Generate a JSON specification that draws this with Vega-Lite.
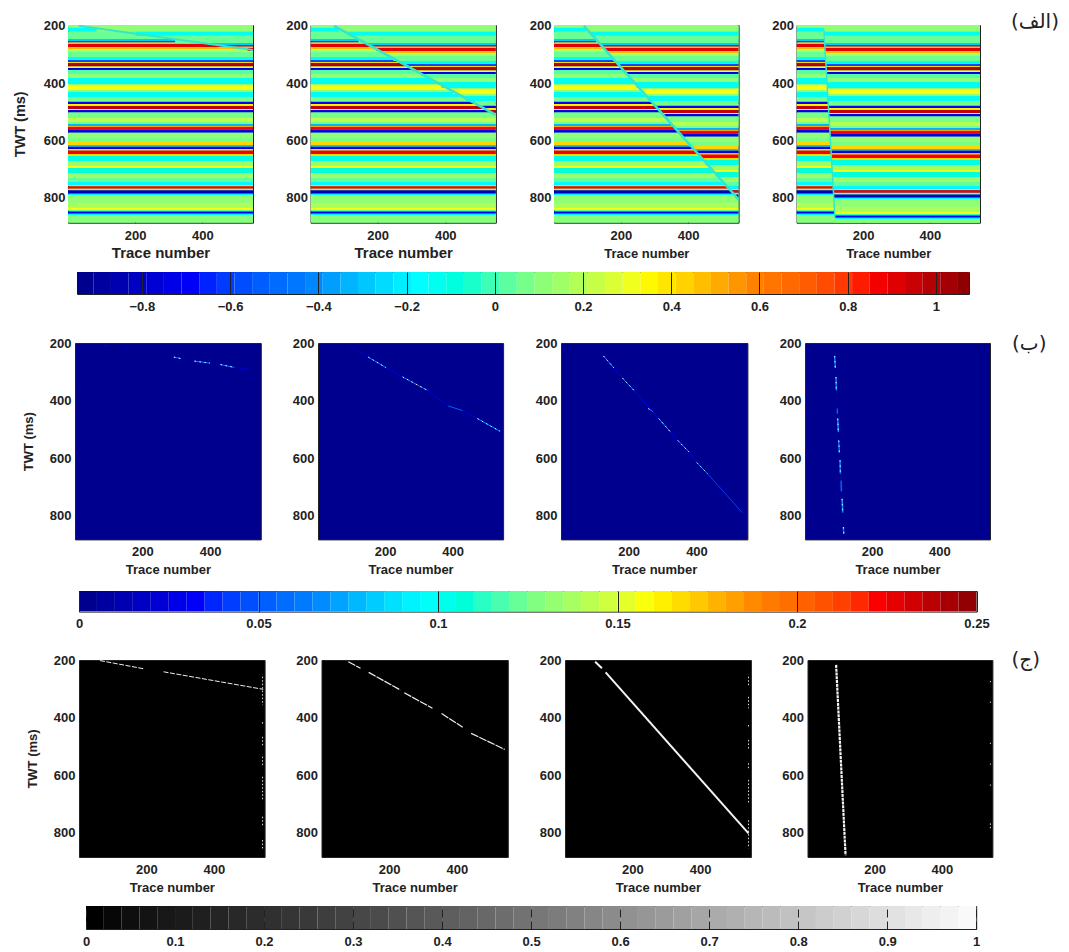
{"$schema":"https://vega.github.io/schema/vega-lite/v6.json","background":"white","padding":{"left":0,"top":11,"right":0,"bottom":0},
"config":{"view":{"stroke":"#222222"},"range":{"heatmap":["#00008f","#0000ff","#0080ff","#00ffff","#80ff80","#ffff00","#ff8000","#ff0000","#800000"],"ramp":["#00008f","#0000ff","#0080ff","#00ffff","#80ff80","#ffff00","#ff8000","#ff0000","#800000"]},
"axis":{"domain":false,"grid":false,"labelFont":"Liberation Sans","labelFontSize":13,"labelFontWeight":"bold","labelColor":"#222222","titleFont":"Liberation Sans","titleFontSize":13,"titleFontWeight":"bold","titleColor":"#222222","tickColor":"#222222","tickSize":0,"labelBound":false,"labelFlush":false,"labelOverlap":false,"titlePadding":5,"labelPadding":6},"axisY":{"labelPadding":4,"titlePadding":14,"labelAngle":0},
"title":{"font":"DejaVu Sans","fontSize":20,"fontWeight":"normal","color":"#222222"}},
"datasets":{
"bands":[
{"t":196.5,"t2":207,"s":196.5,"s2":221,"v":0.1,"a":86,"b":85,"c":97,"d":83},
{"t":207,"t2":221,"s":221,"s2":235,"v":-0.15,"a":202,"b":114,"c":111,"d":84},
{"t":221,"t2":245.5,"s":235,"s2":259.5,"v":0.03,"a":319,"b":143,"c":126,"d":85},
{"t":245.5,"t2":252.5,"s":259.5,"s2":266.5,"v":-0.3,"a":417,"b":168,"c":138,"d":86},
{"t":252.5,"t2":258,"s":266.5,"s2":272,"v":-0.6,"a":454,"b":177,"c":142,"d":86},
{"t":258,"t2":263,"s":272,"s2":277,"v":0.45,"a":488,"b":186,"c":146,"d":86},
{"t":263,"t2":273.5,"s":277,"s2":287.5,"v":0.88,"a":534,"b":197,"c":152,"d":86},
{"t":273.5,"t2":280.5,"s":287.5,"s2":294.5,"v":0.45,"a":550,"b":211,"c":159,"d":87},
{"t":280.5,"t2":291,"s":294.5,"s2":305,"v":0.15,"a":550,"b":225,"c":166,"d":87},
{"t":291,"t2":308.5,"s":305,"s2":322.5,"v":0.03,"a":550,"b":246,"c":176,"d":88},
{"t":308.5,"t2":319,"s":322.5,"s2":333,"v":-0.15,"a":550,"b":268,"c":187,"d":89},
{"t":319,"t2":326,"s":333,"s2":340,"v":-0.6,"a":550,"b":281,"c":193,"d":89},
{"t":326,"t2":329.5,"s":340,"s2":343.5,"v":0.4,"a":550,"b":290,"c":198,"d":89},
{"t":329.5,"t2":341.75,"s":343.5,"s2":355.75,"v":0.98,"a":550,"b":302,"c":204,"d":90},
{"t":341.75,"t2":347,"s":355.75,"s2":361,"v":0.3,"a":550,"b":314,"c":210,"d":90},
{"t":347,"t2":354,"s":361,"s2":368,"v":-0.75,"a":550,"b":324,"c":214,"d":91},
{"t":354,"t2":368,"s":368,"s2":382,"v":0,"a":550,"b":340,"c":223,"d":91},
{"t":368,"t2":382,"s":382,"s2":396,"v":0.1,"a":550,"b":362,"c":233,"d":92},
{"t":382,"t2":403,"s":396,"s2":417,"v":-0.15,"a":550,"b":388,"c":246,"d":93},
{"t":403,"t2":406.5,"s":417,"s2":420.5,"v":0.1,"a":550,"b":408,"c":255,"d":93},
{"t":406.5,"t2":424,"s":420.5,"s2":438,"v":0.3,"a":550,"b":423,"c":263,"d":94},
{"t":424,"t2":431,"s":438,"s2":445,"v":0.1,"a":550,"b":442,"c":273,"d":94},
{"t":431,"t2":448.5,"s":445,"s2":462.5,"v":-0.15,"a":550,"b":462,"c":282,"d":95},
{"t":448.5,"t2":465,"s":462.5,"s2":479,"v":0.05,"a":550,"b":488,"c":295,"d":96},
{"t":465,"t2":473,"s":479,"s2":487,"v":-0.7,"a":550,"b":507,"c":304,"d":97},
{"t":473,"t2":480,"s":487,"s2":494,"v":0.35,"a":550,"b":518,"c":310,"d":97},
{"t":480,"t2":490.5,"s":494,"s2":504.5,"v":0.95,"a":550,"b":531,"c":317,"d":97},
{"t":490.5,"t2":494,"s":504.5,"s2":508,"v":0.3,"a":550,"b":542,"c":323,"d":98},
{"t":494,"t2":503,"s":508,"s2":517,"v":-0.75,"a":550,"b":550,"c":327,"d":98},
{"t":503,"t2":522,"s":517,"s2":536,"v":0.05,"a":550,"b":550,"c":337,"d":99},
{"t":522,"t2":536,"s":536,"s2":550,"v":0.18,"a":550,"b":550,"c":350,"d":100},
{"t":536,"t2":543,"s":550,"s2":557,"v":0.05,"a":550,"b":550,"c":358,"d":100},
{"t":543,"t2":550,"s":557,"s2":564,"v":-0.35,"a":550,"b":550,"c":364,"d":100},
{"t":550,"t2":553.5,"s":564,"s2":567.5,"v":0.5,"a":550,"b":550,"c":367,"d":101},
{"t":553.5,"t2":562,"s":567.5,"s2":576,"v":0.85,"a":550,"b":550,"c":372,"d":101},
{"t":562,"t2":573.5,"s":576,"s2":587.5,"v":-0.75,"a":550,"b":550,"c":379,"d":102},
{"t":573.5,"t2":592,"s":587.5,"s2":606,"v":0.1,"a":550,"b":550,"c":390,"d":102},
{"t":592,"t2":606,"s":606,"s2":620,"v":0.05,"a":550,"b":550,"c":402,"d":103},
{"t":606,"t2":616.5,"s":620,"s2":630.5,"v":0.4,"a":550,"b":550,"c":411,"d":104},
{"t":616.5,"t2":622.5,"s":630.5,"s2":636.5,"v":-0.3,"a":550,"b":550,"c":417,"d":104},
{"t":622.5,"t2":631.5,"s":636.5,"s2":645.5,"v":-0.8,"a":550,"b":550,"c":424,"d":105},
{"t":631.5,"t2":635.5,"s":645.5,"s2":649.5,"v":0.3,"a":550,"b":550,"c":429,"d":105},
{"t":635.5,"t2":648,"s":649.5,"s2":662,"v":0.85,"a":550,"b":550,"c":435,"d":105},
{"t":648,"t2":655,"s":662,"s2":669,"v":0.4,"a":550,"b":550,"c":443,"d":106},
{"t":655,"t2":672.5,"s":669,"s2":686.5,"v":-0.12,"a":550,"b":550,"c":452,"d":106},
{"t":672.5,"t2":690,"s":686.5,"s2":704,"v":0.12,"a":550,"b":550,"c":465,"d":107},
{"t":690,"t2":697,"s":704,"s2":711,"v":0.3,"a":550,"b":550,"c":474,"d":108},
{"t":697,"t2":714.5,"s":711,"s2":728.5,"v":-0.1,"a":550,"b":550,"c":484,"d":109},
{"t":714.5,"t2":732,"s":728.5,"s2":746,"v":0.12,"a":550,"b":550,"c":497,"d":109},
{"t":732,"t2":746,"s":746,"s2":760,"v":0.02,"a":550,"b":550,"c":508,"d":110},
{"t":746,"t2":756.5,"s":760,"s2":770.5,"v":-0.2,"a":550,"b":550,"c":518,"d":111},
{"t":756.5,"t2":761,"s":770.5,"s2":775,"v":0.4,"a":550,"b":550,"c":524,"d":111},
{"t":761,"t2":769.5,"s":775,"s2":783.5,"v":0.85,"a":550,"b":550,"c":529,"d":112},
{"t":769.5,"t2":775,"s":783.5,"s2":789,"v":0.1,"a":550,"b":550,"c":534,"d":112},
{"t":775,"t2":787,"s":789,"s2":801,"v":-0.85,"a":550,"b":550,"c":541,"d":112},
{"t":787,"t2":791.5,"s":801,"s2":805.5,"v":-0.2,"a":550,"b":550,"c":547,"d":113},
{"t":791.5,"t2":819.5,"s":805.5,"s2":833.5,"v":0.1,"a":550,"b":550,"c":550,"d":114},
{"t":819.5,"t2":837,"s":833.5,"s2":851,"v":0.15,"a":550,"b":550,"c":550,"d":115},
{"t":837,"t2":845,"s":851,"s2":859,"v":0.3,"a":550,"b":550,"c":550,"d":115},
{"t":845,"t2":848.5,"s":859,"s2":862.5,"v":-0.1,"a":550,"b":550,"c":550,"d":116},
{"t":848.5,"t2":857,"s":862.5,"s2":871,"v":-0.7,"a":550,"b":550,"c":550,"d":116},
{"t":857,"t2":861.5,"s":871,"s2":875.5,"v":-0.2,"a":550,"b":550,"c":550,"d":116},
{"t":861.5,"t2":888.5,"s":875.5,"s2":888.5,"v":0.08,"a":550,"b":550,"c":550,"d":116}],
"f1":[{"x":33,"y":200,"x2":550,"y2":284}],
"f2":[{"x":71,"y":200,"x2":550,"y2":511}],
"f3":[{"x":90,"y":200,"x2":550,"y2":807}],
"f4":[{"x":83,"y":214,"x2":116,"y2":869}],
"b1":[{"x":85,"y":208,"x2":100,"y2":211,"v":0.02},{"x":150,"y":219,"x2":158,"y2":221,"v":0.02},{"x":293,"y":249,"x2":314,"y2":254,"v":0.055},{"x":354,"y":263,"x2":400,"y2":270,"v":0.06},{"x":431,"y":275,"x2":472,"y2":285,"v":0.06},{"x":472,"y":285,"x2":510,"y2":291,"v":0.02}],
"b2":[{"x":90,"y":208,"x2":150,"y2":249,"v":0.015},{"x":150,"y":249,"x2":203,"y2":286,"v":0.06},{"x":203,"y":286,"x2":252,"y2":318,"v":0.02},{"x":252,"y":318,"x2":326,"y2":365,"v":0.06},{"x":326,"y":365,"x2":387,"y2":419,"v":0.02},{"x":387,"y":419,"x2":430,"y2":435,"v":0.05},{"x":430,"y":435,"x2":474,"y2":463,"v":0.02},{"x":474,"y":463,"x2":541,"y2":507,"v":0.065}],
"b3":[{"x":126,"y":245,"x2":157,"y2":287,"v":0.06},{"x":157,"y":287,"x2":182,"y2":322,"v":0.025},{"x":182,"y":322,"x2":216,"y2":365,"v":0.06},{"x":216,"y":365,"x2":289,"y2":463,"v":0.03},{"x":258,"y":428,"x2":271,"y2":438,"v":0.055},{"x":289,"y":463,"x2":324,"y2":510,"v":0.065},{"x":324,"y":510,"x2":345,"y2":539,"v":0.025},{"x":345,"y":539,"x2":378,"y2":579,"v":0.06},{"x":378,"y":579,"x2":401,"y2":616,"v":0.025},{"x":401,"y":616,"x2":433,"y2":655,"v":0.06},{"x":433,"y":655,"x2":535,"y2":790,"v":0.04}],
"b4":[{"x":89,"y":245,"x2":91,"y2":287,"v":0.06},{"x":93,"y":318,"x2":94,"y2":365,"v":0.06},{"x":97,"y":428,"x2":97,"y2":446,"v":0.05},{"x":98,"y":463,"x2":100,"y2":510,"v":0.065},{"x":101,"y":539,"x2":103,"y2":582,"v":0.055},{"x":105,"y":608,"x2":106,"y2":655,"v":0.06},{"x":108,"y":678,"x2":109,"y2":716,"v":0.05},{"x":111,"y":742,"x2":113,"y2":790,"v":0.065},{"x":115,"y":840,"x2":116,"y2":863,"v":0.06}],
"c1":[{"k":"f","x":63,"y":202,"x2":195,"y2":231},{"k":"f","x":251,"y":241,"x2":546,"y2":302},{"k":"e","x":544,"y":258,"x2":544,"y2":357},{"k":"e","x":544,"y":416,"x2":544,"y2":422},{"k":"e","x":544,"y":467,"x2":544,"y2":502},{"k":"e","x":544,"y":536,"x2":544,"y2":571},{"k":"e","x":544,"y":606,"x2":544,"y2":687},{"k":"e","x":544,"y":745,"x2":544,"y2":780},{"k":"e","x":544,"y":826,"x2":544,"y2":855}],
"c2":[{"k":"f","x":80,"y":206,"x2":116,"y2":229},{"k":"f","x":140,"y":243,"x2":233,"y2":304},{"k":"f","x":245,"y":314,"x2":328,"y2":368},{"k":"f","x":355,"y":386,"x2":417,"y2":434},{"k":"f","x":442,"y":455,"x2":541,"y2":511}],
"c3":[{"k":"f","x":90,"y":206,"x2":110,"y2":229},{"k":"f","x":121,"y":243,"x2":543,"y2":803},{"k":"e","x":543,"y":258,"x2":543,"y2":293},{"k":"e","x":543,"y":328,"x2":543,"y2":368},{"k":"e","x":543,"y":426,"x2":543,"y2":434},{"k":"e","x":543,"y":478,"x2":543,"y2":513},{"k":"e","x":543,"y":559,"x2":543,"y2":583},{"k":"e","x":543,"y":617,"x2":543,"y2":698},{"k":"e","x":543,"y":757,"x2":543,"y2":855}],
"c4":[{"k":"f","x":86,"y":217,"x2":114,"y2":879},{"k":"e","x":544,"y":273,"x2":544,"y2":277},{"k":"e","x":544,"y":345,"x2":544,"y2":349},{"k":"e","x":544,"y":488,"x2":544,"y2":492},{"k":"e","x":544,"y":560,"x2":544,"y2":564},{"k":"e","x":544,"y":633,"x2":544,"y2":637},{"k":"e","x":544,"y":768,"x2":544,"y2":785}],
"cb1":[{"v":-0.95,"w":-0.91},{"v":-0.91,"w":-0.87},{"v":-0.87,"w":-0.83},{"v":-0.83,"w":-0.79},{"v":-0.79,"w":-0.75},{"v":-0.75,"w":-0.71},{"v":-0.71,"w":-0.67},{"v":-0.67,"w":-0.63},{"v":-0.63,"w":-0.59},{"v":-0.59,"w":-0.55},{"v":-0.55,"w":-0.51},{"v":-0.51,"w":-0.47},{"v":-0.47,"w":-0.43},{"v":-0.43,"w":-0.39},{"v":-0.39,"w":-0.35},{"v":-0.35,"w":-0.31},{"v":-0.31,"w":-0.27},{"v":-0.27,"w":-0.23},{"v":-0.23,"w":-0.19},{"v":-0.19,"w":-0.15},{"v":-0.15,"w":-0.11},{"v":-0.11,"w":-0.07},{"v":-0.07,"w":-0.03},{"v":-0.03,"w":0.01},{"v":0.01,"w":0.05},{"v":0.05,"w":0.09},{"v":0.09,"w":0.13},{"v":0.13,"w":0.17},{"v":0.17,"w":0.21},{"v":0.21,"w":0.25},{"v":0.25,"w":0.29},{"v":0.29,"w":0.33},{"v":0.33,"w":0.37},{"v":0.37,"w":0.41},{"v":0.41,"w":0.45},{"v":0.45,"w":0.49},{"v":0.49,"w":0.53},{"v":0.53,"w":0.57},{"v":0.57,"w":0.61},{"v":0.61,"w":0.65},{"v":0.65,"w":0.69},{"v":0.69,"w":0.73},{"v":0.73,"w":0.77},{"v":0.77,"w":0.81},{"v":0.81,"w":0.85},{"v":0.85,"w":0.89},{"v":0.89,"w":0.93},{"v":0.93,"w":0.97},{"v":0.97,"w":1.01},{"v":1.01,"w":1.05},{"v":1.05,"w":1.09}],
"cb2":[{"v":0,"w":0.005},{"v":0.005,"w":0.01},{"v":0.01,"w":0.015},{"v":0.015,"w":0.02},{"v":0.02,"w":0.025},{"v":0.025,"w":0.03},{"v":0.03,"w":0.035},{"v":0.035,"w":0.04},{"v":0.04,"w":0.045},{"v":0.045,"w":0.05},{"v":0.05,"w":0.055},{"v":0.055,"w":0.06},{"v":0.06,"w":0.065},{"v":0.065,"w":0.07},{"v":0.07,"w":0.075},{"v":0.075,"w":0.08},{"v":0.08,"w":0.085},{"v":0.085,"w":0.09},{"v":0.09,"w":0.095},{"v":0.095,"w":0.1},{"v":0.1,"w":0.105},{"v":0.105,"w":0.11},{"v":0.11,"w":0.115},{"v":0.115,"w":0.12},{"v":0.12,"w":0.125},{"v":0.125,"w":0.13},{"v":0.13,"w":0.135},{"v":0.135,"w":0.14},{"v":0.14,"w":0.145},{"v":0.145,"w":0.15},{"v":0.15,"w":0.155},{"v":0.155,"w":0.16},{"v":0.16,"w":0.165},{"v":0.165,"w":0.17},{"v":0.17,"w":0.175},{"v":0.175,"w":0.18},{"v":0.18,"w":0.185},{"v":0.185,"w":0.19},{"v":0.19,"w":0.195},{"v":0.195,"w":0.2},{"v":0.2,"w":0.205},{"v":0.205,"w":0.21},{"v":0.21,"w":0.215},{"v":0.215,"w":0.22},{"v":0.22,"w":0.225},{"v":0.225,"w":0.23},{"v":0.23,"w":0.235},{"v":0.235,"w":0.24},{"v":0.24,"w":0.245},{"v":0.245,"w":0.25}],
"cb3":[{"v":0,"w":0.02},{"v":0.02,"w":0.04},{"v":0.04,"w":0.06},{"v":0.06,"w":0.08},{"v":0.08,"w":0.1},{"v":0.1,"w":0.12},{"v":0.12,"w":0.14},{"v":0.14,"w":0.16},{"v":0.16,"w":0.18},{"v":0.18,"w":0.2},{"v":0.2,"w":0.22},{"v":0.22,"w":0.24},{"v":0.24,"w":0.26},{"v":0.26,"w":0.28},{"v":0.28,"w":0.3},{"v":0.3,"w":0.32},{"v":0.32,"w":0.34},{"v":0.34,"w":0.36},{"v":0.36,"w":0.38},{"v":0.38,"w":0.4},{"v":0.4,"w":0.42},{"v":0.42,"w":0.44},{"v":0.44,"w":0.46},{"v":0.46,"w":0.48},{"v":0.48,"w":0.5},{"v":0.5,"w":0.52},{"v":0.52,"w":0.54},{"v":0.54,"w":0.56},{"v":0.56,"w":0.58},{"v":0.58,"w":0.6},{"v":0.6,"w":0.62},{"v":0.62,"w":0.64},{"v":0.64,"w":0.66},{"v":0.66,"w":0.68},{"v":0.68,"w":0.7},{"v":0.7,"w":0.72},{"v":0.72,"w":0.74},{"v":0.74,"w":0.76},{"v":0.76,"w":0.78},{"v":0.78,"w":0.8},{"v":0.8,"w":0.82},{"v":0.82,"w":0.84},{"v":0.84,"w":0.86},{"v":0.86,"w":0.88},{"v":0.88,"w":0.9},{"v":0.9,"w":0.92},{"v":0.92,"w":0.94},{"v":0.94,"w":0.96},{"v":0.96,"w":0.98},{"v":0.98,"w":1}]
},
"bounds":"full","spacing":0,"resolve":{"scale":{"color":"independent"}},
"vconcat":[
{"bounds":"flush","spacing":0,"resolve":{"scale":{"color":"independent"}},"hconcat":[
{"width":68,"height":197.7,"view":{"stroke":null},"data":{"values":[]},"mark":"rect","encoding":{}},
{"bounds":"flush","spacing":57.5,"resolve":{"scale":{"color":"independent"}},"hconcat":[
{"width":185,"height":197.7,"view":{"fill":"#80ff80"},"data":{"name":"bands"},"layer":[
{"mark":{"type":"rect","clip":true},"encoding":{"y":{"field":"t","type":"quantitative","scale":{"domain":[197,888],"reverse":true,"nice":false,"zero":false},"axis":{"values":[200,400,600,800],"title":"TWT (ms)","titleFontSize":14.5,"tickSize":-3,"labelPadding":6,"titlePadding":16}},"y2":{"field":"t2"},"color":{"field":"v","type":"quantitative","scale":{"domain":[-0.95,1.08]},"legend":null}}},
{"mark":{"type":"rect","clip":true},"encoding":{"x":{"field":"a","type":"quantitative","scale":{"domain":[1,550],"nice":false,"zero":false},"axis":{"values":[200,400],"title":"Trace number","titleFontSize":15,"tickSize":-3,"labelPadding":10,"titlePadding":3}},"x2":{"datum":550},"y":{"field":"s","type":"quantitative"},"y2":{"field":"s2"},"color":{"field":"v","type":"quantitative","scale":{"domain":[-0.95,1.08]},"legend":null}}},
{"data":{"name":"f1"},"mark":{"type":"rule","color":"#35e6c8","strokeWidth":2,"clip":true},"encoding":{"x":{"field":"x","type":"quantitative"},"x2":{"field":"x2"},"y":{"field":"y","type":"quantitative"},"y2":{"field":"y2"}}}]},
{"width":185.4,"height":197.7,"view":{"fill":"#80ff80"},"data":{"name":"bands"},"layer":[
{"mark":{"type":"rect","clip":true},"encoding":{"y":{"field":"t","type":"quantitative","scale":{"domain":[197,888],"reverse":true,"nice":false,"zero":false},"axis":{"values":[200,400,600,800],"title":null,"tickSize":-3,"labelPadding":6}},"y2":{"field":"t2"},"color":{"field":"v","type":"quantitative","scale":{"domain":[-0.95,1.08]},"legend":null}}},
{"mark":{"type":"rect","clip":true},"encoding":{"x":{"field":"b","type":"quantitative","scale":{"domain":[1,550],"nice":false,"zero":false},"axis":{"values":[200,400],"title":"Trace number","titleFontSize":15,"tickSize":-3,"labelPadding":10,"titlePadding":3}},"x2":{"datum":550},"y":{"field":"s","type":"quantitative"},"y2":{"field":"s2"},"color":{"field":"v","type":"quantitative","scale":{"domain":[-0.95,1.08]},"legend":null}}},
{"data":{"name":"f2"},"mark":{"type":"rule","color":"#35e6c8","strokeWidth":2.5,"clip":true},"encoding":{"x":{"field":"x","type":"quantitative"},"x2":{"field":"x2"},"y":{"field":"y","type":"quantitative"},"y2":{"field":"y2"}}}]},
{"width":184.6,"height":197.7,"view":{"fill":"#80ff80"},"data":{"name":"bands"},"layer":[
{"mark":{"type":"rect","clip":true},"encoding":{"y":{"field":"t","type":"quantitative","scale":{"domain":[197,888],"reverse":true,"nice":false,"zero":false},"axis":{"values":[200,400,600,800],"title":null,"tickSize":-3,"labelPadding":6}},"y2":{"field":"t2"},"color":{"field":"v","type":"quantitative","scale":{"domain":[-0.95,1.08]},"legend":null}}},
{"mark":{"type":"rect","clip":true},"encoding":{"x":{"field":"c","type":"quantitative","scale":{"domain":[1,550],"nice":false,"zero":false},"axis":{"values":[200,400],"title":"Trace number","tickSize":-3,"labelPadding":10,"titlePadding":5}},"x2":{"datum":550},"y":{"field":"s","type":"quantitative"},"y2":{"field":"s2"},"color":{"field":"v","type":"quantitative","scale":{"domain":[-0.95,1.08]},"legend":null}}},
{"data":{"name":"f3"},"mark":{"type":"rule","color":"#35e6c8","strokeWidth":2.5,"clip":true},"encoding":{"x":{"field":"x","type":"quantitative"},"x2":{"field":"x2"},"y":{"field":"y","type":"quantitative"},"y2":{"field":"y2"}}}]},
{"width":183.5,"height":197.7,"view":{"fill":"#80ff80"},"title":{"text":"(الف)","orient":"top","anchor":"end","align":"left","offset":0,"dx":31,"dy":12},"data":{"name":"bands"},"layer":[
{"mark":{"type":"rect","clip":true},"encoding":{"y":{"field":"t","type":"quantitative","scale":{"domain":[197,888],"reverse":true,"nice":false,"zero":false},"axis":{"values":[200,400,600,800],"title":null,"tickSize":-3,"labelPadding":6}},"y2":{"field":"t2"},"color":{"field":"v","type":"quantitative","scale":{"domain":[-0.95,1.08]},"legend":null}}},
{"mark":{"type":"rect","clip":true},"encoding":{"x":{"field":"d","type":"quantitative","scale":{"domain":[1,550],"nice":false,"zero":false},"axis":{"values":[200,400],"title":"Trace number","tickSize":-3,"labelPadding":10,"titlePadding":5}},"x2":{"datum":550},"y":{"field":"s","type":"quantitative"},"y2":{"field":"s2"},"color":{"field":"v","type":"quantitative","scale":{"domain":[-0.95,1.08]},"legend":null}}},
{"data":{"name":"f4"},"mark":{"type":"rule","color":"#35e6c8","strokeWidth":1.5,"clip":true},"encoding":{"x":{"field":"x","type":"quantitative"},"x2":{"field":"x2"},"y":{"field":"y","type":"quantitative"},"y2":{"field":"y2"}}}]}
]}
]},
{"width":1,"height":9,"view":{"stroke":null},"data":{"values":[]},"mark":"rect","encoding":{}},
{"bounds":"flush","spacing":0,"resolve":{"scale":{"color":"independent"}},"hconcat":[
{"width":77,"height":22,"view":{"stroke":null},"data":{"values":[]},"mark":"rect","encoding":{}},
{"width":892,"height":22,"data":{"name":"cb1"},"mark":{"type":"rect","clip":true},"encoding":{"x":{"field":"v","type":"quantitative","scale":{"domain":[-0.947,1.075],"nice":false,"zero":false},"axis":{"values":[-0.8,-0.6,-0.4,-0.2,0,0.2,0.4,0.6,0.8,1],"format":"~g","title":null,"tickSize":-22,"zindex":1,"labelPadding":28}},"x2":{"field":"w"},"color":{"field":"v","type":"quantitative","scale":{"domain":[-0.95,1.08]},"legend":null}}}
]},
{"width":1,"height":19,"view":{"stroke":null},"data":{"values":[]},"mark":"rect","encoding":{}},
{"bounds":"flush","spacing":0,"resolve":{"scale":{"color":"independent"}},"hconcat":[
{"width":74.7,"height":196.4,"view":{"stroke":null},"data":{"values":[]},"mark":"rect","encoding":{}},
{"bounds":"flush","spacing":57,"resolve":{"scale":{"color":"independent"}},"hconcat":[
{"width":185.8,"height":196.4,"view":{"fill":"#00008f"},"data":{"name":"b1"},"encoding":{"x":{"field":"x","type":"quantitative","scale":{"domain":[1,550],"nice":false,"zero":false},"axis":{"values":[200,400],"title":"Trace number"}},"x2":{"field":"x2"},"y":{"field":"y","type":"quantitative","scale":{"domain":[200,883],"reverse":true,"nice":false,"zero":false},"axis":{"values":[200,400,600,800],"title":"TWT (ms)"}},"y2":{"field":"y2"}},"layer":[
{"mark":{"type":"rule","strokeWidth":1,"clip":true},"encoding":{"color":{"field":"v","type":"quantitative","scale":{"domain":[0,0.25]},"legend":null}}},
{"transform":[{"filter":{"field":"v","gte":0.055}}],"mark":{"type":"rule","color":"#e8f4ff","strokeWidth":1,"strokeDash":[1.5,3.5],"clip":true}}]},
{"width":185.1,"height":196.4,"view":{"fill":"#00008f"},"data":{"name":"b2"},"encoding":{"x":{"field":"x","type":"quantitative","scale":{"domain":[1,550],"nice":false,"zero":false},"axis":{"values":[200,400],"title":"Trace number"}},"x2":{"field":"x2"},"y":{"field":"y","type":"quantitative","scale":{"domain":[200,883],"reverse":true,"nice":false,"zero":false},"axis":{"values":[200,400,600,800],"title":null}},"y2":{"field":"y2"}},"layer":[
{"mark":{"type":"rule","strokeWidth":1,"clip":true},"encoding":{"color":{"field":"v","type":"quantitative","scale":{"domain":[0,0.25]},"legend":null}}},
{"transform":[{"filter":{"field":"v","gte":0.055}}],"mark":{"type":"rule","color":"#e8f4ff","strokeWidth":1,"strokeDash":[1.5,3.5],"clip":true}}]},
{"width":186.4,"height":196.4,"view":{"fill":"#00008f"},"data":{"name":"b3"},"encoding":{"x":{"field":"x","type":"quantitative","scale":{"domain":[1,550],"nice":false,"zero":false},"axis":{"values":[200,400],"title":"Trace number"}},"x2":{"field":"x2"},"y":{"field":"y","type":"quantitative","scale":{"domain":[200,883],"reverse":true,"nice":false,"zero":false},"axis":{"values":[200,400,600,800],"title":null}},"y2":{"field":"y2"}},"layer":[
{"mark":{"type":"rule","strokeWidth":1,"clip":true},"encoding":{"color":{"field":"v","type":"quantitative","scale":{"domain":[0,0.25]},"legend":null}}},
{"transform":[{"filter":{"field":"v","gte":0.055}}],"mark":{"type":"rule","color":"#e8f4ff","strokeWidth":1,"strokeDash":[1.5,3.5],"clip":true}}]},
{"width":185,"height":196.4,"view":{"fill":"#00008f"},"title":{"text":"(ب)","orient":"top","anchor":"end","align":"left","offset":0,"dx":22,"dy":17},"data":{"name":"b4"},"encoding":{"x":{"field":"x","type":"quantitative","scale":{"domain":[1,550],"nice":false,"zero":false},"axis":{"values":[200,400],"title":"Trace number"}},"x2":{"field":"x2"},"y":{"field":"y","type":"quantitative","scale":{"domain":[200,883],"reverse":true,"nice":false,"zero":false},"axis":{"values":[200,400,600,800],"title":null}},"y2":{"field":"y2"}},"layer":[
{"mark":{"type":"rule","strokeWidth":1.5,"clip":true},"encoding":{"color":{"field":"v","type":"quantitative","scale":{"domain":[0,0.25]},"legend":null}}},
{"transform":[{"filter":{"field":"v","gte":0.055}}],"mark":{"type":"rule","color":"#e8f4ff","strokeWidth":1,"strokeDash":[1.5,3.5],"clip":true}}]}
]}
]},
{"width":1,"height":13,"view":{"stroke":null},"data":{"values":[]},"mark":"rect","encoding":{}},
{"bounds":"flush","spacing":0,"resolve":{"scale":{"color":"independent"}},"hconcat":[
{"width":78.5,"height":20.6,"view":{"stroke":null},"data":{"values":[]},"mark":"rect","encoding":{}},
{"width":897.5,"height":20.6,"data":{"name":"cb2"},"mark":{"type":"rect","clip":true},"encoding":{"x":{"field":"v","type":"quantitative","scale":{"domain":[0,0.25],"nice":false,"zero":false},"axis":{"values":[0,0.05,0.1,0.15,0.2,0.25],"format":"~g","title":null,"tickSize":-20.6,"zindex":1,"labelPadding":26.6}},"x2":{"field":"w"},"color":{"field":"v","type":"quantitative","scale":{"domain":[0,0.25]},"legend":null}}}
]},
{"width":1,"height":17,"view":{"stroke":null},"data":{"values":[]},"mark":"rect","encoding":{}},
{"bounds":"flush","spacing":0,"resolve":{"scale":{"color":"independent"}},"hconcat":[
{"width":78.5,"height":197,"view":{"stroke":null},"data":{"values":[]},"mark":"rect","encoding":{}},
{"bounds":"flush","spacing":56.5,"resolve":{"scale":{"color":"independent"}},"hconcat":[
{"width":185.6,"height":197,"view":{"fill":"#000000"},"data":{"name":"c1"},"encoding":{"x":{"field":"x","type":"quantitative","scale":{"domain":[1,550],"nice":false,"zero":false},"axis":{"values":[200,400],"title":"Trace number"}},"x2":{"field":"x2"},"y":{"field":"y","type":"quantitative","scale":{"domain":[200,885],"reverse":true,"nice":false,"zero":false},"axis":{"values":[200,400,600,800],"title":"TWT (ms)"}},"y2":{"field":"y2"}},"layer":[
{"transform":[{"filter":{"field":"k","equal":"f"}}],"mark":{"type":"rule","color":"#eeeeee","strokeWidth":1,"strokeDash":[5,1.5],"clip":true}},
{"transform":[{"filter":{"field":"k","equal":"e"}}],"mark":{"type":"rule","color":"#dddddd","strokeWidth":1,"strokeDash":[1.5,2],"clip":true}}]},
{"width":186.3,"height":197,"view":{"fill":"#000000"},"data":{"name":"c2"},"encoding":{"x":{"field":"x","type":"quantitative","scale":{"domain":[1,550],"nice":false,"zero":false},"axis":{"values":[200,400],"title":"Trace number"}},"x2":{"field":"x2"},"y":{"field":"y","type":"quantitative","scale":{"domain":[200,885],"reverse":true,"nice":false,"zero":false},"axis":{"values":[200,400,600,800],"title":null}},"y2":{"field":"y2"}},"layer":[
{"mark":{"type":"rule","color":"#eeeeee","strokeWidth":1.2,"strokeDash":[8,1],"clip":true}}]},
{"width":185.9,"height":197,"view":{"fill":"#000000"},"data":{"name":"c3"},"encoding":{"x":{"field":"x","type":"quantitative","scale":{"domain":[1,550],"nice":false,"zero":false},"axis":{"values":[200,400],"title":"Trace number"}},"x2":{"field":"x2"},"y":{"field":"y","type":"quantitative","scale":{"domain":[200,885],"reverse":true,"nice":false,"zero":false},"axis":{"values":[200,400,600,800],"title":null}},"y2":{"field":"y2"}},"layer":[
{"transform":[{"filter":{"field":"k","equal":"f"}}],"mark":{"type":"rule","color":"#f4f4f4","strokeWidth":2,"clip":true}},
{"transform":[{"filter":{"field":"k","equal":"e"}}],"mark":{"type":"rule","color":"#dddddd","strokeWidth":1,"strokeDash":[1.5,2],"clip":true}}]},
{"width":184.9,"height":197,"view":{"fill":"#000000"},"title":{"text":"(ج)","orient":"top","anchor":"end","align":"left","offset":0,"dx":19,"dy":16},"data":{"name":"c4"},"encoding":{"x":{"field":"x","type":"quantitative","scale":{"domain":[1,550],"nice":false,"zero":false},"axis":{"values":[200,400],"title":"Trace number"}},"x2":{"field":"x2"},"y":{"field":"y","type":"quantitative","scale":{"domain":[200,885],"reverse":true,"nice":false,"zero":false},"axis":{"values":[200,400,600,800],"title":null}},"y2":{"field":"y2"}},"layer":[
{"transform":[{"filter":{"field":"k","equal":"f"}}],"mark":{"type":"rule","color":"#f4f4f4","strokeWidth":2.2,"strokeDash":[3,0.8],"clip":true}},
{"transform":[{"filter":{"field":"k","equal":"e"}}],"mark":{"type":"rule","color":"#dddddd","strokeWidth":1,"strokeDash":[1.5,2],"clip":true}}]}
]}
]},
{"width":1,"height":10,"view":{"stroke":null},"data":{"values":[]},"mark":"rect","encoding":{}},
{"bounds":"flush","spacing":0,"resolve":{"scale":{"color":"independent"}},"hconcat":[
{"width":85.4,"height":23,"view":{"stroke":null},"data":{"values":[]},"mark":"rect","encoding":{}},
{"width":890.2,"height":23,"data":{"name":"cb3"},"mark":{"type":"rect","clip":true},"encoding":{"x":{"field":"v","type":"quantitative","scale":{"domain":[0,1],"nice":false,"zero":false},"axis":{"values":[0,0.1,0.2,0.3,0.4,0.5,0.6,0.7,0.8,0.9,1],"format":"~g","title":null,"tickSize":-23,"tickDash":[8,4],"zindex":1,"labelPadding":29}},"x2":{"field":"w"},"color":{"field":"v","type":"quantitative","scale":{"domain":[0,1],"range":["#000000","#ffffff"]},"legend":null}}}
]}
]}
